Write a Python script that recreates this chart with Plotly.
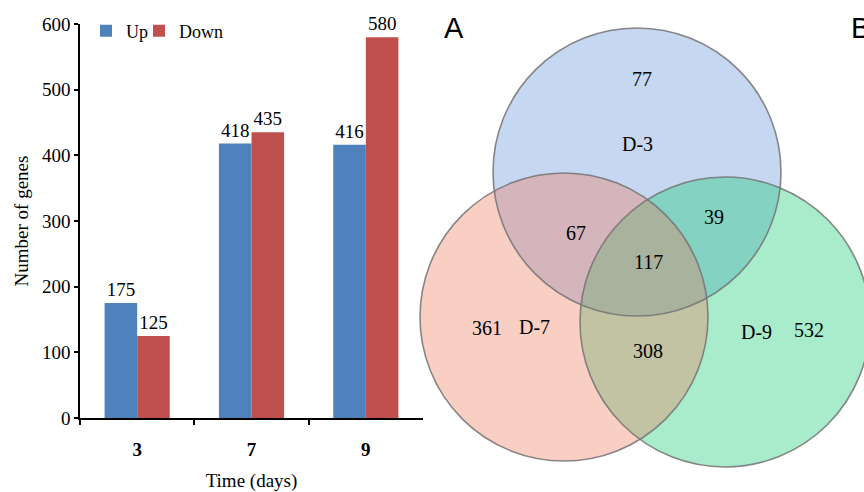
import plotly.graph_objects as go

# ---------------- data ----------------
days = ["3", "7", "9"]
up_counts = [175, 418, 416]
down_counts = [125, 435, 580]
y_tick_vals = [0, 100, 200, 300, 400, 500, 600]

venn_sets = ["D-3", "D-7", "D-9"]
venn_regions = ["D-3 only", "D-3&D-7", "D-3&D-9", "D-3&D-7&D-9",
                "D-7 only", "D-7&D-9", "D-9 only"]
venn_counts = [77, 67, 39, 117, 361, 308, 532]

# ---------------- layout / style ----------------
W, H = 864, 492
SERIF = "Liberation Serif"
SANS = "Liberation Sans"

# Venn geometry in pixel units (layout, not data)
circles = {
    "D-3": dict(cx=637, cy=172, r=144, fill="rgba(128,166,224,0.45)"),
    "D-9": dict(cx=725, cy=322, r=145, fill="rgba(6,201,106,0.35)"),
    "D-7": dict(cx=564, cy=317, r=144, fill="rgba(238,121,92,0.36)"),
}
set_label_pos = {"D-3": (637, 144), "D-7": (534, 327), "D-9": (756, 332)}
region_label_pos = {
    "D-3 only": (642, 79), "D-3&D-7": (576, 233), "D-3&D-9": (714, 217),
    "D-3&D-7&D-9": (648, 262), "D-7 only": (487, 328), "D-7&D-9": (648, 351),
    "D-9 only": (809, 330),
}

fig = go.Figure()
fig.add_trace(go.Bar(
    name="Up", x=days, y=up_counts, marker=dict(color="#4F81BD", line=dict(width=0)),
    text=up_counts, textposition="outside", cliponaxis=False, legend="legend",
    textfont=dict(family=SERIF, size=19, color="black"),
))
fig.add_trace(go.Bar(
    name="Down", x=days, y=down_counts, marker=dict(color="#C0504D", line=dict(width=0)),
    text=down_counts, textposition="outside", cliponaxis=False, legend="legend2",
    textfont=dict(family=SERIF, size=19, color="black"),
))

shapes = []
for name in ["D-3", "D-9", "D-7"]:
    c = circles[name]
    shapes.append(dict(type="circle", xref="x2", yref="y2",
                       x0=c["cx"] - c["r"], x1=c["cx"] + c["r"],
                       y0=c["cy"] - c["r"], y1=c["cy"] + c["r"],
                       fillcolor=c["fill"], line=dict(width=0), layer="above"))
for name in ["D-3", "D-9", "D-7"]:
    c = circles[name]
    shapes.append(dict(type="circle", xref="x2", yref="y2",
                       x0=c["cx"] - c["r"], x1=c["cx"] + c["r"],
                       y0=c["cy"] - c["r"], y1=c["cy"] + c["r"],
                       fillcolor="rgba(0,0,0,0)",
                       line=dict(width=1.6, color="rgba(115,115,115,0.85)"), layer="above"))

annotations = []
for reg, cnt in zip(venn_regions, venn_counts):
    px, py = region_label_pos[reg]
    annotations.append(dict(x=px, y=py, xref="x2", yref="y2", text=str(cnt),
                            xanchor="center", yanchor="middle", showarrow=False,
                            font=dict(family=SERIF, size=20, color="black")))
for s in venn_sets:
    px, py = set_label_pos[s]
    annotations.append(dict(x=px, y=py, xref="x2", yref="y2", text=s,
                            xanchor="center", yanchor="middle", showarrow=False,
                            font=dict(family=SERIF, size=20, color="black")))
annotations.append(dict(x=454, y=28, xref="x2", yref="y2", text="A",
                        xanchor="center", yanchor="middle", showarrow=False,
                        font=dict(family=SANS, size=29, color="black")))
annotations.append(dict(x=849, y=28, xref="x2", yref="y2", text="B",
                        xanchor="left", yanchor="middle", showarrow=False,
                        font=dict(family=SANS, size=29, color="black")))

x0_px, x1_px = 80, 423
y_top_px, y_bot_px = 24, 418

legend_style = dict(orientation="h", y=1 - 31 / H, xanchor="left", yanchor="middle",
                    font=dict(family=SERIF, size=18, color="black"),
                    bgcolor="rgba(0,0,0,0)", itemwidth=30)

fig.update_layout(
    width=W, height=H, margin=dict(l=0, r=0, t=0, b=0, autoexpand=False),
    paper_bgcolor="white", plot_bgcolor="rgba(0,0,0,0)",
    barmode="group", bargap=0.43, bargroupgap=0,
    font=dict(family=SERIF, size=18, color="black"),
    showlegend=True,
    legend=dict(x=86 / W, **legend_style),
    legend2=dict(x=139 / W, **legend_style),
    xaxis=dict(domain=[x0_px / W, x1_px / W], type="category", range=[-0.5, 2.5],
               showline=True, linecolor="black", linewidth=1.5,
               ticks="outside", tickson="boundaries", ticklen=5, tickcolor="black", tickwidth=1.5,
               tickfont=dict(family=SERIF, size=19, color="black", weight="bold"),
               ticklabelstandoff=13, automargin=False,
               title=dict(text="Time (days)", font=dict(family=SERIF, size=19), standoff=18),
               showgrid=False, fixedrange=True, anchor="y"),
    yaxis=dict(domain=[1 - y_bot_px / H, 1 - y_top_px / H], range=[0, 600],
               tickvals=y_tick_vals, showline=True, linecolor="black", linewidth=1.5,
               ticks="outside", ticklen=4, tickcolor="black", tickwidth=1.5,
               tickfont=dict(family=SERIF, size=19, color="black"),
               automargin=False,
               title=dict(text="Number of genes", font=dict(family=SERIF, size=19), standoff=8),
               showgrid=False, zeroline=False, fixedrange=True, anchor="x"),
    xaxis2=dict(domain=[0.48, 1], range=[0.48 * W, W], visible=False, anchor="y2",
                fixedrange=True, automargin=False),
    yaxis2=dict(domain=[0, 1], range=[H, 0], visible=False, anchor="x2", fixedrange=True,
                automargin=False),
    shapes=shapes, annotations=annotations,
)

fig.write_html(
    "out.html",
    config={"displayModeBar": False},
    post_script="document.body.style.margin='0';document.body.style.overflow='hidden';",
)
